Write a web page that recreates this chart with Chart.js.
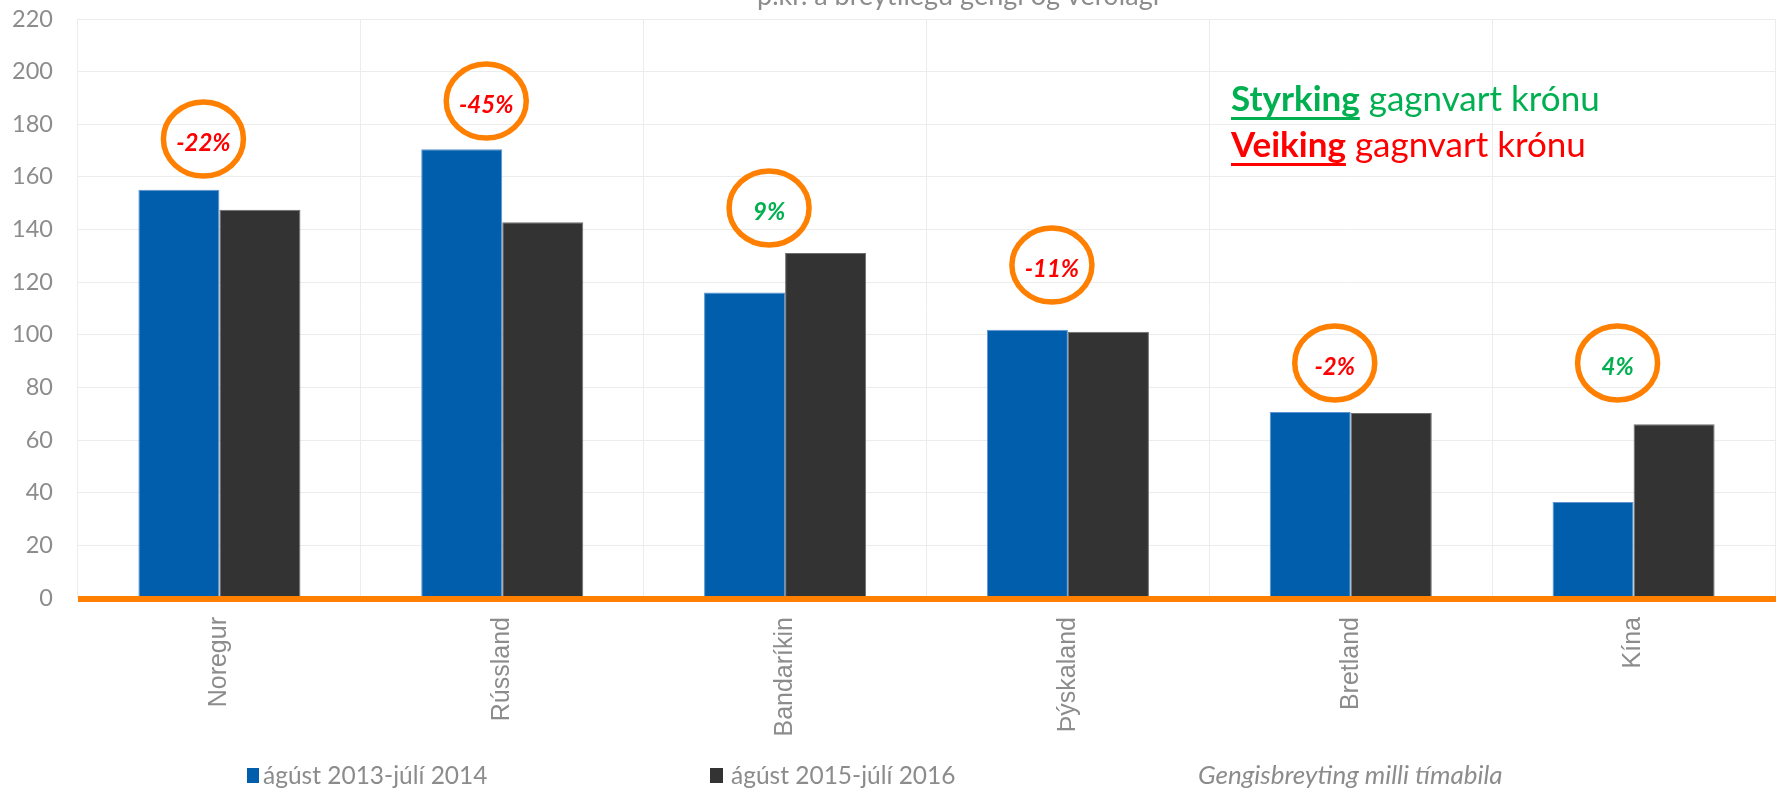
<!DOCTYPE html>
<html>
<head>
<meta charset="utf-8">
<script src="https://cdn.jsdelivr.net/npm/chart.js@4.4.1/dist/chart.umd.min.js"></script>
<style>
html, body { margin: 0; padding: 0; background: #fff; }
#wrap { width: 1776px; height: 788px; }
</style>
</head>
<body>
<div id="wrap"><canvas id="myChart"></canvas></div>
<script>
// data
const countries = ['Noregur', 'Rússland', 'Bandaríkin', 'Þýskaland', 'Bretland', 'Kína'];
const period1 = [155.1, 170.5, 116.1, 101.9, 70.7, 36.5];
const period2 = [147.5, 142.8, 131.1, 101.2, 70.3, 66.0];
const changeText = ['-22%', '-45%', '9%', '-11%', '-2%', '4%'];
const ringLevel = [174.4, 188.8, 148.2, 126.5, 89.3, 89.3];
const seriesNames = ['ágúst 2013-júlí 2014', 'ágúst 2015-júlí 2016', 'Gengisbreyting milli tímabila'];
const titleText = 'þ.kr. á breytilegu gengi og verðlagi';
const noteLines = [['Styrking', ' gagnvart krónu'], ['Veiking', ' gagnvart krónu']];

const blue = '#005EAC';
const dark = '#333333';
const orange = '#FF7F00';
const red = '#FF0000';
const green = '#00B050';
const gray = '#8C8C8C';

// rings, orange axis line, legend and notes
const extras = {
    id: 'extras',
    afterDatasetsDraw(chart) {
        const ctx = chart.ctx;
        const x = chart.scales.x;
        const y = chart.scales.y;
        const area = chart.chartArea;
        ctx.save();
        // orange zero line
        const zero = y.getPixelForValue(0);
        ctx.fillStyle = orange;
        ctx.fillRect(area.left, zero - 2, area.right - area.left + 2, 6);
        // rings with the change labels
        changeText.forEach((t, i) => {
            const cx = x.getPixelForValue(i) - 16;
            const cy = y.getPixelForValue(ringLevel[i]);
            ctx.beginPath();
            ctx.ellipse(cx, cy, 40, 37, 0, 0, Math.PI * 2);
            ctx.lineWidth = 5.5;
            ctx.strokeStyle = orange;
            ctx.stroke();
            ctx.font = 'italic bold 24px Lato';
            ctx.fillStyle = t.charAt(0) === '-' ? red : green;
            ctx.textAlign = 'center';
            ctx.textBaseline = 'middle';
            ctx.fillText(t, cx, cy + 4);
        });
        ctx.restore();
    },
    afterDraw(chart) {
        const ctx = chart.ctx;
        ctx.save();
        // title, cut off at the top like the source
        ctx.font = '27px Lato';
        ctx.fillStyle = gray;
        ctx.textAlign = 'left';
        ctx.textBaseline = 'alphabetic';
        ctx.fillText(titleText, 757, 5);

        // notes top right
        const noteColors = [green, red];
        const baselines = [111, 157];
        noteLines.forEach((parts, i) => {
            ctx.fillStyle = noteColors[i];
            ctx.font = 'bold 35px Lato';
            ctx.fillText(parts[0], 1231, baselines[i]);
            const w = ctx.measureText(parts[0]).width;
            ctx.fillRect(1231, baselines[i] + 6, w, 3);
            ctx.font = '35px Lato';
            ctx.fillText(parts[1], 1231 + w, baselines[i]);
        });

        // legend
        ctx.textBaseline = 'middle';
        ctx.font = '24.5px Lato';
        ctx.fillStyle = blue;
        ctx.fillRect(247, 768, 12, 15);
        ctx.fillStyle = gray;
        ctx.fillText(seriesNames[0], 263, 776);
        ctx.fillStyle = dark;
        ctx.fillRect(710, 768, 13, 15);
        ctx.fillStyle = gray;
        ctx.fillText(seriesNames[1], 731, 776);
        ctx.font = 'italic 26px Lato';
        ctx.fillText(seriesNames[2], 1198, 776);
        ctx.restore();
    }
};

const config = {
    type: 'bar',
    data: {
        labels: countries,
        datasets: [{
            label: seriesNames[0],
            data: period1,
            backgroundColor: blue,
            borderColor: '#5C95CF',
            borderWidth: 1,
            categoryPercentage: 0.573,
            barPercentage: 1
        }, {
            label: seriesNames[1],
            data: period2,
            backgroundColor: dark,
            borderColor: '#6E6E6E',
            borderWidth: 1,
            categoryPercentage: 0.573,
            barPercentage: 1
        }]
    },
    options: {
        responsive: true,
        maintainAspectRatio: false,
        animation: false,
        layout: { padding: { top: 19, right: 1, left: 0, bottom: 0 } },
        plugins: {
            legend: { display: false },
            tooltip: { enabled: false }
        },
        scales: {
            x: {
                grid: { color: '#ECECEC', offset: true, drawTicks: false },
                border: { display: false },
                ticks: {
                    minRotation: 90,
                    maxRotation: 90,
                    padding: 19,
                    color: gray,
                    font: { family: 'Liberation Sans', size: 25 }
                },
                afterFit(scale) {
                    scale.height = 190;
                    scale.paddingLeft = 0;
                    scale.paddingRight = 0;
                }
            },
            y: {
                min: 0,
                max: 220,
                grid: { color: '#ECECEC', drawTicks: false },
                border: { display: false },
                ticks: {
                    stepSize: 20,
                    padding: 25,
                    color: gray,
                    font: { family: 'Lato', size: 23.5 }
                },
                afterFit(scale) {
                    scale.width = 78;
                    scale.paddingTop = 0;
                    scale.paddingBottom = 0;
                }
            }
        }
    },
    plugins: [extras]
};

const chart = new Chart(document.getElementById('myChart'), config);
</script>
</body>
</html>
